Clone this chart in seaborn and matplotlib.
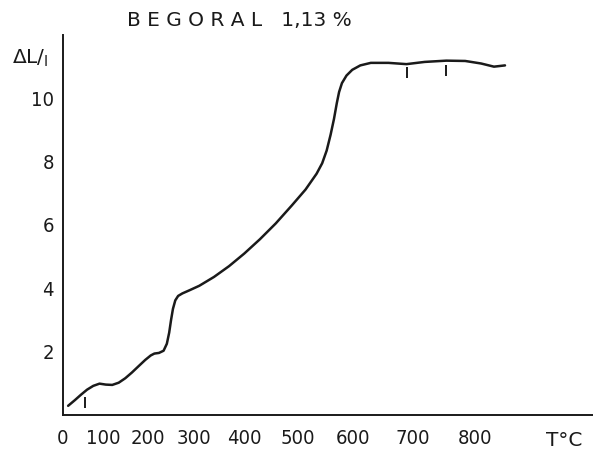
import numpy as np
import pandas as pd
import matplotlib
matplotlib.use("Agg")
import matplotlib.pyplot as plt
from matplotlib import font_manager
import seaborn as sns

# ---- data ----
temp_c = [13, 30, 45, 60, 75, 90, 105, 120, 135, 150, 165, 180, 195, 207, 215,
          225, 235, 242, 247, 251, 255, 260, 266, 275, 290, 310, 340, 370, 400,
          430, 460, 490, 515, 535, 545, 553, 560, 566, 571, 575, 580, 588, 598,
          612, 630, 660, 690, 720, 755, 785, 810, 830, 847]
dl_l = [0.29, 0.47, 0.64, 0.80, 0.92, 0.99, 0.96, 0.95, 1.02, 1.16, 1.34, 1.54,
        1.74, 1.88, 1.94, 1.96, 2.03, 2.25, 2.60, 3.00, 3.35, 3.62, 3.76, 3.84,
        3.94, 4.08, 4.36, 4.70, 5.10, 5.55, 6.05, 6.62, 7.12, 7.62, 7.95, 8.35,
        8.85, 9.35, 9.85, 10.20, 10.48, 10.72, 10.90, 11.04, 11.12, 11.12, 11.08,
        11.15, 11.19, 11.18, 11.10, 11.00, 11.04]

mark_temps = [54, 691, 755]
mark_low = [0.22, 10.63, 10.70]
mark_high = [0.58, 10.98, 11.05]

x_ticks = [0, 100, 200, 300, 400, 500, 600, 700, 800]
x_ticklabels = ["0", "100", "200", "300", "400", "500", "600", "700", "800"]
y_ticks = [2, 4, 6, 8, 10]
y_ticklabels = ["2", "4", "6", "8", "10"]

title_text = "B E G O R A L   1,13 %"
ylabel_text = r"$\mathregular{\Delta L/_{l}}$"
xlabel_text = "T°C"

df = pd.DataFrame({"T": temp_c, "dL": dl_l})

sns.set_style("white")
installed = {(f.name, f.stretch) for f in font_manager.fontManager.ttflist}
names = {n for n, _ in installed}
if "Liberation Sans Narrow" in names:
    tick_font = dict(family="Liberation Sans Narrow", size=15)
elif ("DejaVu Sans", "condensed") in installed:
    tick_font = dict(family="DejaVu Sans", stretch="condensed", size=14.5)
else:
    tick_font = dict(family="Roboto", size=14)
plt.rcParams["font.family"] = ["DejaVu Sans"]

fig = plt.figure(figsize=(5.93, 4.53), dpi=100)
ax = fig.add_axes([63 / 593, 1 - 415 / 453, 1 - 63 / 593, (415 - 35) / 453])

K = 3.91e-4


def fwd(t):
    t = np.asarray(t, dtype=float)
    return np.where(t < 0, t, t + K * t * t)


def inv(p):
    p = np.asarray(p, dtype=float)
    return np.where(p < 0, p, (-1 + np.sqrt(1 + 4 * K * np.clip(p, 0, None))) / (2 * K))


ax.set_xscale("function", functions=(fwd, inv))

sns.lineplot(data=df, x="T", y="dL", ax=ax, color="#1a1a1a", linewidth=1.8,
             sort=False, estimator=None)
ax.vlines(mark_temps, mark_low, mark_high, color="#1a1a1a", linewidth=1.4)

ax.set_xlim(0, 978)
ax.set_ylim(0, 12)
ax.set_xticks(x_ticks)
ax.set_xticklabels(x_ticklabels, fontdict=tick_font)
ax.set_yticks(y_ticks)
ax.set_yticklabels(y_ticklabels, fontdict=tick_font)
ax.set_xlabel("")
ax.set_ylabel("")

for s in ["top", "right"]:
    ax.spines[s].set_visible(False)
for s in ["left", "bottom"]:
    ax.spines[s].set_color("#1a1a1a")
    ax.spines[s].set_linewidth(1.4)

ax.tick_params(axis="x", direction="in", length=4.5, width=1.3, colors="#1a1a1a",
               pad=10)
ax.tick_params(axis="y", direction="out", length=3.5, width=1.3, colors="#1a1a1a",
               pad=3)

fig.text(239 / 593, 1 - 20 / 453, title_text, ha="center", va="center",
         fontsize=14.5, color="#1a1a1a", family="DejaVu Sans")
fig.text(30 / 593, 1 - 58 / 453, ylabel_text, ha="center", va="center",
         fontsize=14.5, color="#1a1a1a")
fig.text(564 / 593, 1 - 440 / 453, xlabel_text, ha="center", va="center",
         fontsize=14.5, color="#1a1a1a")

fig.savefig("out.png", dpi=100, facecolor="white")
